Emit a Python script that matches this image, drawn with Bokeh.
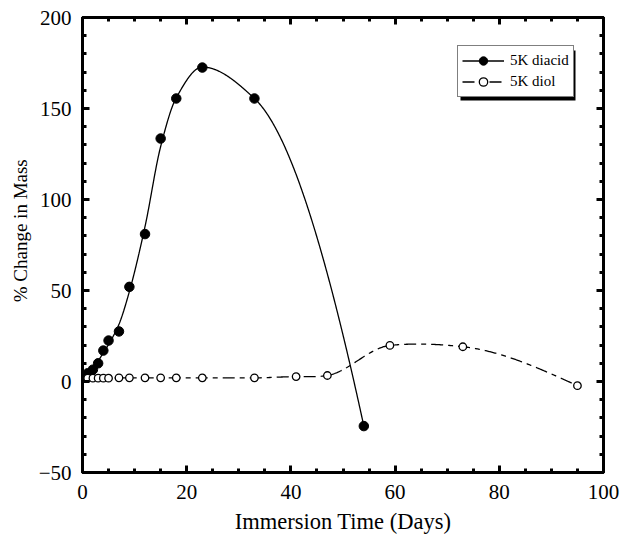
import numpy as np
from bokeh.plotting import figure
from bokeh.models import (FixedTicker, LinearAxis, Legend, LegendItem,
                          CustomJSTickFormatter, BoxAnnotation, Range1d)
from bokeh.embed import file_html
from bokeh.resources import INLINE

# ---- data ----
diacid_days = [1, 2, 3, 4, 5, 7, 9, 12, 15, 18, 23, 33, 54]
diacid_mass = [4.5, 6.5, 10, 17, 22.5, 27.5, 52, 81, 133.5, 155.5, 172.5, 155.5, -24.5]

diol_days = [1, 2, 3, 4, 5, 7, 9, 12, 15, 18, 23, 33, 41, 47, 59, 73, 95]
diol_mass = [1.8, 1.8, 1.8, 1.8, 1.8, 2.0, 2.0, 2.0, 2.0, 2.0, 2.0, 2.0, 2.7, 3.3, 19.8, 19.1, -2.3]

x_ticks = [0, 20, 40, 60, 80, 100]
x_minor = [5, 10, 15, 25, 30, 35, 45, 50, 55, 65, 70, 75, 85, 90, 95]
y_ticks = [-50, 0, 50, 100, 150, 200]
y_minor = [-40, -30, -20, -10, 10, 20, 30, 40, 60, 70, 80, 90,
           110, 120, 130, 140, 160, 170, 180, 190]
y_labels = {-50: "\u221250"}
x_title = "Immersion Time (Days)"
y_title = "% Change in Mass"

FONT = "Liberation Serif"


def smooth_values(x, y, lam, w):
    """Fitted values of a weighted cubic smoothing spline (Reinsch)."""
    x = np.asarray(x, float)
    y = np.asarray(y, float)
    N = len(x)
    Winv = np.diag(1.0 / np.asarray(w, float))
    h = np.diff(x)
    Q = np.zeros((N, N - 2))
    R = np.zeros((N - 2, N - 2))
    for j in range(1, N - 1):
        c = j - 1
        Q[j - 1, c] = 1 / h[j - 1]
        Q[j, c] = -1 / h[j - 1] - 1 / h[j]
        Q[j + 1, c] = 1 / h[j]
        R[c, c] = (h[j - 1] + h[j]) / 3
        if c + 1 < N - 2:
            R[c, c + 1] = h[j] / 6
            R[c + 1, c] = h[j] / 6
    gam = np.linalg.solve(R + lam * Q.T @ Winv @ Q, Q.T @ y)
    return y - lam * Winv @ Q @ gam


def hermite(x, y, m, n=600):
    x = np.asarray(x, float)
    y = np.asarray(y, float)
    xs = np.linspace(x[0], x[-1], n)
    idx = np.clip(np.searchsorted(x, xs, side="right") - 1, 0, len(x) - 2)
    h = x[idx + 1] - x[idx]
    t = (xs - x[idx]) / h
    h00 = 2 * t**3 - 3 * t**2 + 1
    h10 = t**3 - 2 * t**2 + t
    h01 = -2 * t**3 + 3 * t**2
    h11 = t**3 - t**2
    ys = h00 * y[idx] + h10 * h * m[idx] + h01 * y[idx + 1] + h11 * h * m[idx + 1]
    return xs, ys


def pchip_curve(x, y):
    x = np.asarray(x, float)
    y = np.asarray(y, float)
    N = len(x)
    h = np.diff(x)
    d = np.diff(y) / h
    m = np.zeros(N)
    for k in range(1, N - 1):
        if d[k - 1] * d[k] > 0:
            w1 = 2 * h[k] + h[k - 1]
            w2 = h[k] + 2 * h[k - 1]
            m[k] = (w1 + w2) / (w1 / d[k - 1] + w2 / d[k])

    def end(h0, h1, d0, d1):
        v = ((2 * h0 + h1) * d0 - h0 * d1) / (h0 + h1)
        if np.sign(v) != np.sign(d0):
            return 0.0
        if np.sign(d0) != np.sign(d1) and abs(v) > abs(3 * d0):
            return 3 * d0
        return v

    m[0] = end(h[0], h[1], d[0], d[1])
    m[-1] = end(h[-1], h[-2], d[-1], d[-2])
    return hermite(x, y, m)


def cardinal_curve(x, y, tension):
    x = np.asarray(x, float)
    y = np.asarray(y, float)
    N = len(x)
    d = np.diff(y) / np.diff(x)
    m = np.zeros(N)
    for k in range(1, N - 1):
        m[k] = (1 - tension) * (y[k + 1] - y[k - 1]) / (x[k + 1] - x[k - 1])
    m[0] = (3 * d[0] - m[1]) / 2
    m[-1] = (3 * d[-1] - m[-2]) / 2
    return hermite(x, y, m)


acid_w = [3, 1, 1, 1, 1, 1, 1, 1, 1, 2, 1, 20, 50]
acid_fit = smooth_values(diacid_days, diacid_mass, 2.0, acid_w)
ax_x, ax_y = pchip_curve(diacid_days, acid_fit)
ol_x, ol_y = cardinal_curve(diol_days, diol_mass, 0.5)

p = figure(width=621, height=536, output_backend="svg", toolbar_location=None,
           x_range=Range1d(0, 100), y_range=Range1d(-50, 200),
           min_border_left=82, min_border_right=18, min_border_top=17,
           min_border_bottom=64, x_axis_location=None, y_axis_location=None)
p.grid.visible = False
p.outline_line_color = "black"
p.outline_line_width = 3
p.background_fill_color = "white"
p.border_fill_color = "white"


def style_axis(ax, ticks, minor, labels=True, overrides=None):
    ax.ticker = FixedTicker(ticks=ticks, minor_ticks=minor)
    ax.axis_line_width = 3
    ax.axis_line_color = "black"
    ax.major_tick_in = 7
    ax.major_tick_out = 0
    ax.minor_tick_in = 4
    ax.minor_tick_out = 0
    ax.major_tick_line_width = 3
    ax.minor_tick_line_width = 3
    ax.major_label_text_font = FONT
    ax.major_label_text_font_size = "21px"
    ax.major_label_text_color = "black"
    ax.axis_label_text_font = FONT
    ax.axis_label_text_font_style = "normal"
    ax.axis_label_text_color = "#000000"
    if overrides:
        ax.major_label_overrides = overrides
    if not labels:
        ax.formatter = CustomJSTickFormatter(code="return ''")


xb = LinearAxis(axis_label=x_title)
style_axis(xb, x_ticks, x_minor)
xb.major_label_standoff = 12
xb.axis_label_standoff = 7
xb.axis_label_text_font_size = "22.5px"
p.add_layout(xb, "below")

yl = LinearAxis()
style_axis(yl, y_ticks, y_minor, overrides=y_labels)
yl.major_label_standoff = 11
p.add_layout(yl, "left")

# a bare axis that only carries the y title (leading no-break spaces lift it,
# as the reference title sits above the frame's middle)
yt = LinearAxis(axis_label="\u00a0" * 6 + y_title,
                ticker=FixedTicker(ticks=[]), axis_line_color=None,
                major_tick_line_color=None, minor_tick_line_color=None,
                major_label_standoff=0, axis_label_standoff=5,
                axis_label_text_font=FONT, axis_label_text_font_size="19px",
                axis_label_text_font_style="normal", axis_label_text_color="#000000")
yt.formatter = CustomJSTickFormatter(code="return ''")
p.add_layout(yt, "left")

xt = LinearAxis()
style_axis(xt, x_ticks, x_minor, labels=False)
p.add_layout(xt, "above")

yr = LinearAxis()
style_axis(yr, y_ticks, y_minor, labels=False)
p.add_layout(yr, "right")

# curves
l1 = p.line(ax_x, ax_y, line_color="black", line_width=1.3)
s1 = p.scatter(diacid_days, diacid_mass, marker="circle", size=9.5,
               fill_color="black", line_color="black")
l2 = p.line(ol_x, ol_y, line_color="black", line_width=1.3, line_dash="12 5 5 5")
s2 = p.scatter(diol_days, diol_mass, marker="circle", size=7.5,
               fill_color="white", line_color="black", line_width=1.3)

# legend shadow (screen units, relative to the frame)
shadow = BoxAnnotation(left=378, right=493, bottom=372, top=422,
                       left_units="screen", right_units="screen",
                       bottom_units="screen", top_units="screen",
                       fill_color="black", fill_alpha=1, line_color=None)
p.add_layout(shadow)

legend = Legend(items=[LegendItem(label="5K diacid", renderers=[l1, s1]),
                       LegendItem(label="5K diol", renderers=[l2, s2])],
                location=(375, 375))
legend.label_text_font = FONT
legend.label_text_font_size = "15px"
legend.label_text_color = "black"
legend.border_line_color = "black"
legend.border_line_width = 1
legend.background_fill_color = "white"
legend.background_fill_alpha = 1
legend.glyph_width = 42
legend.glyph_height = 21
legend.label_height = 21
legend.label_standoff = 6
legend.padding = 4
legend.spacing = 0
legend.margin = 0
p.add_layout(legend)

open("out.html", "w").write(file_html(p, INLINE))
